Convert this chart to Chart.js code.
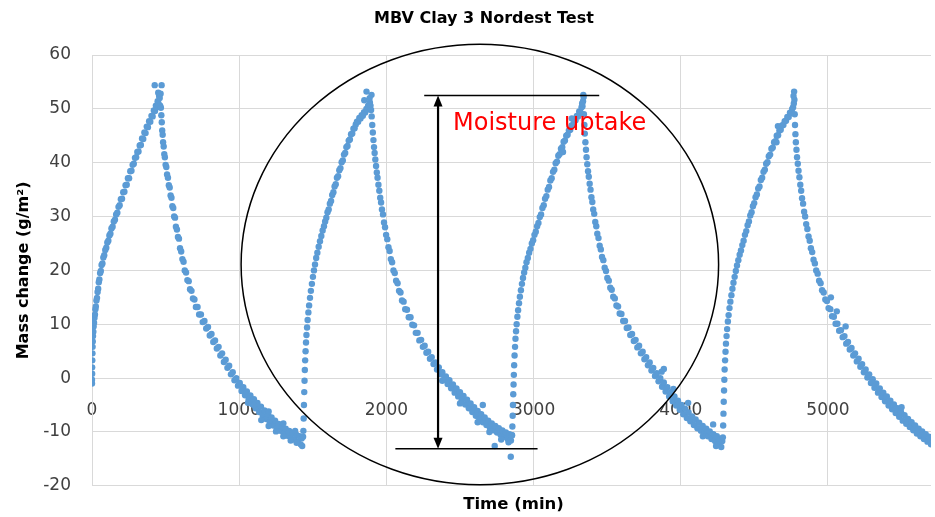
<!DOCTYPE html>
<html>
<head>
<meta charset="utf-8">
<title>MBV Clay 3 Nordest Test</title>
<script src="https://cdn.jsdelivr.net/npm/chart.js@4.4.1/dist/chart.umd.min.js"></script>
<style>
    html, body { margin: 0; padding: 0; background: #ffffff; }
    #wrap { width: 935px; height: 517px; }
</style>
</head>
<body>
<div id="wrap"><canvas id="mbvChart" width="935" height="517"></canvas></div>
<script>
// Datos: [tiempo (min), cambio de masa (g/m2)]
// Ciclo 1
const rise1 = [
    [0,-1.0],[0,-0.3],[1,0.8],[1,2.0],[2,3.3],[3,4.6],[4,5.8],[5,6.8],[7,7.8],[9,8.6],[11,9.6],[14,10.3],
    [17,11.2],[20,11.8],[23,12.8],[26,13.3],[30,14.4],[34,14.9],[38,16.0],[42,16.6],[46,17.8],[50,18.3],
    [55,19.5],[60,19.9],[65,21.0],[71,21.3],[77,22.4],[83,22.8],[90,23.8],[97,24.2],[104,25.2],[111,25.5],
    [118,26.5],[125,26.8],[132,27.8],[140,28.1],[148,29.1],[156,29.4],[164,30.4],[172,30.7],[180,31.8],
    [188,32.1],[196,33.2],[204,33.3],[212,34.5],[220,34.6],[228,35.8],[236,35.9],[244,37.1],[252,37.1],
    [260,38.4],[268,38.5],[276,39.6],[284,39.8],[292,40.9],[300,41.0],[308,42.0],[316,42.1],[324,43.2],
    [332,43.3],[340,44.5],[348,44.4],[356,45.6],[364,45.5],[372,46.7],[380,46.6],[388,47.7],[396,47.6],
    [404,48.7],[412,48.6],[420,49.7],[428,49.6],[434,50.6],[440,50.3],[446,51.4],[452,51.0],[456,52.4],
    [460,52.0],[426,54.4],[473,54.4],[450,53.0],[466,52.8],[463,50.6]
];
const fall1 = [
    [468,50.2],[471,48.8],[474,47.5],[477,46.0],[480,45.2],[483,43.8],[487,43.0],[491,41.6],[495,41.0],
    [500,39.6],[505,39.2],[510,37.8],[516,37.2],[522,35.8],[528,35.4],[534,33.9],[540,33.5],[546,31.9],
    [552,31.6],[558,30.0],[564,29.8],[570,28.1],[577,27.6],[584,26.2],[591,25.9],[598,24.1],[606,23.5],
    [614,22.1],[622,21.6],[630,20.0],[639,19.6],[648,18.2],[657,18.0],[666,16.5],[676,16.2],[686,14.8],
    [696,14.6],[706,13.2],[717,13.2],[728,11.8],[740,11.8],[752,10.4],[764,10.6],[776,9.2],[788,9.5],
    [800,7.9],[812,8.2],[824,6.7],[836,7.0],[848,5.5],[860,5.8],[872,4.2],[884,4.6],[896,3.0],[908,3.4],
    [920,1.9],[932,2.3],[944,0.7],[956,1.1],[968,-0.4],[980,0.0],[992,-1.4],[1004,-0.9],[1016,-2.4],
    [1028,-1.7],[1040,-3.2],[1052,-2.5],[1064,-4.0],[1076,-3.2],[1088,-4.8],[1100,-3.9],[1112,-5.6],
    [1124,-4.6],[1136,-6.3],[1148,-5.3],[1160,-7.0],[1172,-6.0],[1184,-7.6],[1196,-6.7],[1208,-8.2],
    [1220,-7.3],[1232,-8.8],[1244,-7.9],[1256,-9.3],[1268,-8.5],[1280,-9.8],[1292,-9.0],[1304,-10.3],
    [1316,-9.4],[1328,-10.7],[1340,-9.8],[1352,-11.1],[1364,-10.2],[1376,-11.4],[1388,-10.5],[1400,-11.8],
    [1410,-10.8],[1418,-12.3],[1424,-11.2],[1428,-12.6],[1434,-10.9],
    [1150,-7.8],[1200,-8.9],[1250,-9.9],[1300,-10.8],[1350,-11.6],[1390,-12.0],[1200,-6.2],[1300,-8.4],
    [1380,-9.8],[1100,-5.0],[1060,-4.6]
];
// Ciclo 2
const rise2 = [
    [1436,-9.8],[1438,-7.5],[1440,-5.0],[1442,-2.6],[1444,-0.5],[1446,1.5],[1448,3.3],[1451,5.0],
    [1454,6.6],[1457,8.0],[1461,9.4],[1465,10.8],[1470,12.2],[1475,13.5],[1481,14.9],[1487,16.2],
    [1494,17.5],[1501,18.8],[1508,20.0],[1515,21.1],[1523,22.3],[1531,23.3],[1540,24.4],[1549,25.4],
    [1558,26.4],[1567,27.4],[1576,28.2],[1584,29.1],[1592,29.8],[1600,30.8],[1608,31.3],[1616,32.4],
    [1624,32.9],[1632,34.0],[1640,34.5],[1648,35.6],[1656,36.0],[1664,37.2],[1672,37.5],[1680,38.6],
    [1688,39.0],[1696,40.1],[1704,40.4],[1712,41.5],[1720,41.8],[1728,42.9],[1736,43.1],[1744,44.1],
    [1752,44.3],[1760,45.3],[1768,45.4],[1776,46.3],[1784,46.4],[1792,47.1],[1800,47.6],[1808,47.6],
    [1816,48.3],[1824,48.2],[1832,48.8],[1840,48.7],[1848,49.4],[1856,49.3],[1864,50.0],[1870,49.9],
    [1876,50.6],[1882,50.4],[1888,51.2],[1892,50.6],[1865,53.2],[1899,52.6],[1850,51.6],[1886,52.0]
];
const fall2 = [
    [1896,49.8],[1900,48.6],[1904,47.0],[1908,45.6],[1912,44.2],[1916,42.9],[1920,41.8],[1925,40.6],
    [1930,39.4],[1935,38.2],[1940,37.2],[1946,35.9],[1952,34.8],[1958,33.5],[1964,32.6],[1970,31.3],
    [1977,30.4],[1984,28.9],[1991,28.0],[1998,26.6],[2006,25.8],[2014,24.3],[2022,23.6],[2030,22.1],
    [2039,21.5],[2048,20.0],[2057,19.5],[2066,18.1],[2076,17.6],[2086,16.2],[2096,15.9],[2106,14.4],
    [2117,14.2],[2128,12.8],[2140,12.7],[2152,11.3],[2164,11.3],[2176,9.9],[2188,9.8],[2200,8.4],
    [2212,8.4],[2224,7.0],[2236,7.1],[2248,5.8],[2260,6.0],[2272,4.7],[2284,4.9],[2296,3.6],[2308,3.9],
    [2320,2.6],[2332,2.9],[2344,1.6],[2356,2.0],[2368,0.7],[2380,1.1],[2392,-0.2],[2404,0.3],[2416,-1.1],
    [2428,-0.4],[2440,-1.9],[2452,-1.2],[2464,-2.7],[2476,-1.9],[2488,-3.4],[2500,-2.6],[2512,-4.1],
    [2524,-3.3],[2536,-4.9],[2548,-4.0],[2560,-5.6],[2572,-4.7],[2584,-6.3],[2596,-5.4],[2608,-7.0],
    [2620,-6.1],[2632,-7.6],[2644,-6.7],[2656,-8.2],[2668,-7.3],[2680,-8.7],[2692,-7.9],[2704,-9.2],
    [2716,-8.4],[2728,-9.7],[2740,-8.9],[2752,-10.1],[2764,-9.3],[2776,-10.5],[2788,-9.7],[2800,-10.9],
    [2812,-10.1],[2824,-11.3],[2836,-10.4],[2846,-11.6],[2852,-10.6],[2845,-14.6],[2830,-11.9],
    [2700,-10.0],[2780,-11.4],[2620,-8.2],[2380,-0.5],[2500,-4.7],[2736,-12.6],[2655,-5.0]
];
// Ciclo 3
const rise3 = [
    [2854,-10.6],[2856,-9.0],[2858,-7.0],[2860,-5.0],[2862,-3.0],[2864,-1.2],[2866,0.6],[2868,2.4],
    [2871,4.2],[2874,5.8],[2877,7.3],[2881,8.7],[2885,10.0],[2890,11.4],[2895,12.6],[2901,13.9],
    [2907,15.1],[2914,16.3],[2921,17.5],[2928,18.6],[2936,19.6],[2944,20.5],[2952,21.5],[2961,22.3],
    [2970,23.3],[2979,24.0],[2988,25.0],[2997,25.6],[3006,26.6],[3015,27.2],[3024,28.2],[3033,28.8],
    [3042,29.9],[3051,30.4],[3060,31.6],[3069,32.1],[3078,33.3],[3087,33.8],[3096,35.0],[3105,35.5],
    [3114,36.7],[3123,37.1],[3132,38.3],[3141,38.7],[3150,39.9],[3159,40.2],[3168,41.3],[3177,41.6],
    [3186,42.6],[3195,42.9],[3204,43.9],[3213,44.1],[3222,45.0],[3231,45.2],[3240,46.0],[3249,46.1],
    [3258,46.9],[3267,47.0],[3276,47.8],[3285,47.9],[3294,48.7],[3302,48.6],[3310,49.5],[3318,49.4],
    [3326,50.3],[3332,50.5],[3336,51.4],[3340,52.2],[3338,52.6],[3330,51.0],[3260,48.2],[3200,42.0]
];
const fall3 = [
    [3342,49.0],[3345,47.0],[3348,45.4],[3352,43.8],[3356,42.4],[3360,41.0],[3365,39.7],[3370,38.4],
    [3375,37.4],[3381,36.1],[3387,35.0],[3393,33.6],[3399,32.7],[3405,31.3],[3412,30.5],[3419,29.0],
    [3426,28.2],[3433,26.8],[3441,26.0],[3449,24.6],[3457,23.9],[3465,22.5],[3474,21.9],[3483,20.5],
    [3492,19.9],[3501,18.6],[3511,18.1],[3521,16.8],[3531,16.4],[3541,15.1],[3552,14.8],[3563,13.5],
    [3574,13.3],[3585,12.0],[3597,11.9],[3609,10.6],[3621,10.6],[3633,9.3],[3645,9.4],[3657,8.0],
    [3669,8.2],[3681,6.9],[3693,7.1],[3705,5.7],[3717,6.0],[3729,4.6],[3741,4.9],[3753,3.5],[3765,3.9],
    [3777,2.4],[3789,2.9],[3801,1.4],[3813,1.9],[3825,0.4],[3837,0.9],[3849,-0.6],[3861,0.0],[3873,-1.6],
    [3885,-0.8],[3897,-2.5],[3909,-1.7],[3921,-3.4],[3933,-2.6],[3945,-4.3],[3957,-3.4],[3969,-5.1],
    [3981,-4.2],[3993,-5.9],[4005,-5.0],[4017,-6.7],[4029,-5.7],[4041,-7.4],[4053,-6.4],[4065,-8.0],
    [4077,-7.1],[4089,-8.7],[4101,-7.7],[4113,-9.3],[4125,-8.3],[4137,-9.8],[4149,-8.9],[4161,-10.3],
    [4173,-9.4],[4185,-10.8],[4197,-9.9],[4209,-11.3],[4221,-10.4],[4233,-11.7],[4245,-10.8],
    [4257,-12.2],[4267,-11.3],[4275,-12.8],[4282,-11.7],
    [3885,1.7],[3870,1.2],[3950,-2.0],[4050,-4.6],[4220,-8.6],[4150,-10.8],[4240,-12.6]
];
// Ciclo 4
const rise4 = [
    [4286,-11.0],[4288,-8.8],[4290,-6.6],[4292,-4.4],[4294,-2.3],[4296,-0.3],[4298,1.6],[4301,3.3],
    [4304,4.9],[4307,6.4],[4311,7.8],[4315,9.1],[4320,10.5],[4325,11.7],[4331,13.0],[4337,14.2],
    [4344,15.4],[4351,16.6],[4358,17.7],[4366,18.8],[4374,19.9],[4382,20.9],[4391,21.9],[4400,22.9],
    [4409,23.7],[4418,24.7],[4427,25.5],[4436,26.6],[4445,27.3],[4454,28.4],[4463,29.1],[4472,30.2],
    [4481,30.8],[4490,31.9],[4499,32.5],[4508,33.6],[4517,34.1],[4526,35.2],[4535,35.6],[4544,36.8],
    [4553,37.2],[4562,38.3],[4571,38.7],[4580,39.8],[4589,40.1],[4598,41.2],[4607,41.5],[4616,42.6],
    [4625,42.8],[4634,43.8],[4643,44.0],[4652,45.0],[4661,45.1],[4670,46.0],[4679,46.1],[4688,46.9],
    [4697,47.0],[4706,47.7],[4715,47.8],[4724,48.5],[4733,48.5],[4742,49.3],[4750,49.2],[4757,50.0],
    [4763,50.3],[4768,51.0],[4772,51.7],[4770,53.2],[4766,52.4],[4660,46.8],[4650,43.8]
];
const fall4 = [
    [4774,49.0],[4776,47.0],[4779,45.3],[4782,43.8],[4786,42.4],[4790,41.0],[4795,39.8],[4800,38.5],
    [4806,37.3],[4812,35.9],[4818,34.8],[4824,33.4],[4831,32.4],[4838,30.9],[4845,30.0],[4852,28.6],
    [4860,27.7],[4868,26.3],[4876,25.5],[4884,24.1],[4893,23.4],[4902,22.0],[4911,21.3],[4920,20.0],
    [4930,19.4],[4940,18.1],[4950,17.6],[4960,16.3],[4971,15.9],[4982,14.6],[4993,14.3],[5004,13.0],
    [5016,12.8],[5028,11.5],[5040,11.4],[5052,10.1],[5064,10.1],[5076,8.8],[5088,8.9],[5100,7.6],
    [5112,7.8],[5124,6.4],[5136,6.7],[5148,5.3],[5160,5.6],[5172,4.2],[5184,4.6],[5196,3.1],[5208,3.6],
    [5220,2.1],[5232,2.6],[5244,1.1],[5256,1.6],[5268,0.1],[5280,0.7],[5292,-0.9],[5304,-0.2],[5316,-1.8],
    [5328,-1.0],[5340,-2.7],[5352,-1.9],[5364,-3.5],[5376,-2.7],[5388,-4.3],[5400,-3.4],[5412,-5.1],
    [5424,-4.2],[5436,-5.8],[5448,-4.9],[5460,-6.5],[5472,-5.6],[5484,-7.2],[5496,-6.3],[5508,-7.9],
    [5520,-6.9],[5532,-8.5],[5544,-7.6],[5556,-9.1],[5568,-8.2],[5580,-9.7],[5592,-8.8],[5604,-10.3],
    [5616,-9.4],[5628,-10.8],[5640,-9.9],[5652,-11.3],[5664,-10.4],[5676,-11.8],[5688,-10.9],
    [5700,-12.3],[5712,-11.4],[5724,-12.7],[5736,-11.8],[5748,-13.0],[5760,-12.0],
    [5020,15.0],[5060,12.4],[5120,9.6],[5500,-5.4]
];

// Ejes
const xTicks = [0, 1000, 2000, 3000, 4000, 5000];
const xMax = 5700;            // la imagen original esta recortada a la derecha
const yTicks = [-20, -10, 0, 10, 20, 30, 40, 50, 60];

// Anotaciones (en unidades de datos)
const circleCenter = [2635, 21.1];
const circleRadius = [1622, 40.9];
const arrowTime = 2351;
const uptakeTop = 52.5;
const uptakeBottom = -13.1;
const topLine = [2257, 3446];
const bottomLine = [2061, 3027];

const tickFont = { family: 'DejaVu Sans', size: 17 };
const gridColor = '#d9d9d9';

const series = [rise1, fall1, rise2, fall2, rise3, fall3, rise4, fall4]
    .flat()
    .map(([t, m]) => ({ x: t, y: m }));

// Dibuja circulo, flecha y textos encima de los puntos
const annotations = {
    id: 'annotations',
    afterDatasetsDraw(chart) {
        const { ctx, chartArea, scales: { x, y } } = chart;
        ctx.save();

        // circulo
        const cx = x.getPixelForValue(circleCenter[0]);
        const cy = y.getPixelForValue(circleCenter[1]);
        const rx = x.getPixelForValue(circleCenter[0] + circleRadius[0]) - cx;
        const ry = cy - y.getPixelForValue(circleCenter[1] + circleRadius[1]);
        ctx.strokeStyle = '#000000';
        ctx.lineWidth = 1.5;
        ctx.beginPath();
        ctx.ellipse(cx, cy, rx, ry, 0, 0, Math.PI * 2);
        ctx.stroke();

        // lineas horizontales
        const yTop = y.getPixelForValue(uptakeTop);
        const yBottom = y.getPixelForValue(uptakeBottom);
        ctx.beginPath();
        ctx.moveTo(x.getPixelForValue(topLine[0]), yTop);
        ctx.lineTo(x.getPixelForValue(topLine[1]), yTop);
        ctx.moveTo(x.getPixelForValue(bottomLine[0]), yBottom);
        ctx.lineTo(x.getPixelForValue(bottomLine[1]), yBottom);
        ctx.stroke();

        // flecha doble
        const ax = x.getPixelForValue(arrowTime);
        const head = 11;
        ctx.lineWidth = 2.2;
        ctx.beginPath();
        ctx.moveTo(ax, yTop + head - 1);
        ctx.lineTo(ax, yBottom - head + 1);
        ctx.stroke();
        ctx.fillStyle = '#000000';
        ctx.beginPath();
        ctx.moveTo(ax, yTop);
        ctx.lineTo(ax - 4.5, yTop + head);
        ctx.lineTo(ax + 4.5, yTop + head);
        ctx.closePath();
        ctx.fill();
        ctx.beginPath();
        ctx.moveTo(ax, yBottom);
        ctx.lineTo(ax - 4.5, yBottom - head);
        ctx.lineTo(ax + 4.5, yBottom - head);
        ctx.closePath();
        ctx.fill();

        // texto rojo
        ctx.fillStyle = '#ff0000';
        ctx.font = '24px "DejaVu Sans"';
        ctx.textAlign = 'left';
        ctx.textBaseline = 'alphabetic';
        ctx.fillText('Moisture uptake', ax + 15, yTop + 35);

        // titulo y titulo del eje X
        ctx.fillStyle = '#000000';
        ctx.textAlign = 'center';
        ctx.font = 'bold 16px "DejaVu Sans"';
        ctx.fillText('MBV Clay 3 Nordest Test', 484, chartArea.top - 32);
        ctx.font = 'bold 16.5px "DejaVu Sans"';
        ctx.fillText('Time (min)', (chartArea.left + chartArea.right) / 2 + 2, chartArea.bottom + 23);

        ctx.restore();
    }
};

const ctx = document.getElementById('mbvChart').getContext('2d');
new Chart(ctx, {
    type: 'scatter',
    data: {
        datasets: [{
            label: 'Mass change',
            data: series,
            backgroundColor: '#5b9bd5',
            borderWidth: 0,
            pointRadius: 3.2
        }]
    },
    options: {
        responsive: false,
        animation: false,
        devicePixelRatio: 1,
        layout: { padding: { top: 55, bottom: 30, left: 0, right: 0 } },
        plugins: {
            legend: { display: false },
            tooltip: { enabled: false },
            title: { display: false }
        },
        scales: {
            x: {
                type: 'linear',
                min: 0,
                max: xMax,
                position: { y: 0 },
                afterBuildTicks: axis => { axis.ticks = xTicks.map(v => ({ value: v })); },
                ticks: { font: tickFont, color: '#404040', padding: 22, maxRotation: 0, callback: v => String(v) },
                grid: { color: gridColor, lineWidth: 1, drawTicks: false },
                border: { color: gridColor }
            },
            y: {
                min: -20,
                max: 60,
                afterBuildTicks: axis => { axis.ticks = yTicks.map(v => ({ value: v })); },
                afterFit: axis => { axis.width = 92; },
                ticks: { font: tickFont, color: '#404040', padding: 21, callback: v => String(v) },
                grid: { color: gridColor, lineWidth: 1, drawTicks: false },
                border: { color: gridColor },
                title: {
                    display: true,
                    text: 'Mass change (g/m²)',
                    color: '#000000',
                    font: { family: 'DejaVu Sans', size: 16, weight: 'bold' },
                    padding: { top: 14, bottom: 0 }
                }
            }
        }
    },
    plugins: [annotations]
});
</script>
</body>
</html>
